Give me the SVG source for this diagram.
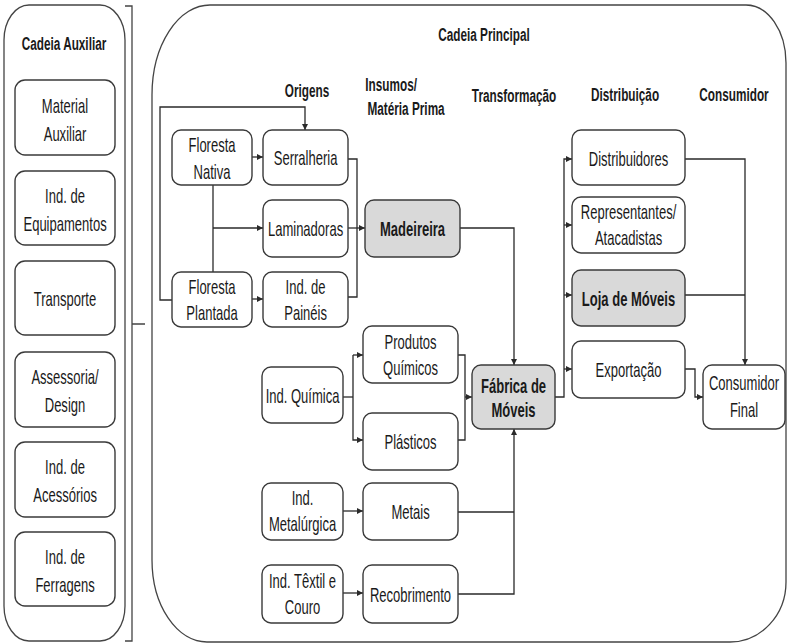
<svg xmlns="http://www.w3.org/2000/svg" width="787" height="644" viewBox="0 0 787 644">
<style>
text{font-family:"Liberation Sans",Arial,sans-serif;font-size:21px;fill:#1a1a1a;text-anchor:middle;transform-box:fill-box;transform-origin:center;transform:scaleX(0.62)}
.h{font-weight:bold;font-size:19px}
.b{font-weight:bold}
.n{fill:#fff;stroke:#3a3a3a;stroke-width:1.4}
.g{fill:#d9d9d9;stroke:#3a3a3a;stroke-width:1.4}
.panel{fill:#fff;stroke:#444;stroke-width:1.3}
.c path{fill:none;stroke:#2a2a2a;stroke-width:1.3}
.ar{marker-end:url(#ah)}
</style>
<defs>
<marker id="ah" markerUnits="userSpaceOnUse" markerWidth="6" markerHeight="6" refX="6" refY="3" orient="auto">
<path d="M0,0 L6,3 L0,6 z" fill="#2a2a2a"/>
</marker>
</defs>
<rect width="787" height="644" fill="#fff"/>
<g id="aux-panel">
<rect class="panel" x="4" y="5" width="121" height="636" rx="25" ry="35"/>
<text class="h" x="64" y="50">Cadeia Auxiliar</text>
</g>
<g id="bracket">
<path d="M125,6 H132 V641 H125 M132,324 H145" fill="none" stroke="#444" stroke-width="1.3"/>
</g>
<g id="aux-material"><rect class="n" x="15" y="80" width="100" height="75" rx="10"/><text x="65" y="113">Material</text><text x="65" y="141">Auxiliar</text></g>
<g id="aux-equip"><rect class="n" x="15" y="171" width="100" height="74" rx="10"/><text x="65" y="203">Ind. de</text><text x="65" y="231">Equipamentos</text></g>
<g id="aux-transp"><rect class="n" x="15" y="261" width="100" height="74" rx="10"/><text x="65" y="306">Transporte</text></g>
<g id="aux-assess"><rect class="n" x="15" y="352" width="100" height="75" rx="10"/><text x="65" y="384">Assessoria/</text><text x="65" y="412">Design</text></g>
<g id="aux-acess"><rect class="n" x="15" y="442" width="100" height="75" rx="10"/><text x="65" y="474">Ind. de</text><text x="65" y="502">Acessórios</text></g>
<g id="aux-ferr"><rect class="n" x="15" y="532" width="100" height="74" rx="10"/><text x="65" y="564">Ind. de</text><text x="65" y="592">Ferragens</text></g>

<g id="main-panel">
<path class="panel" d="M210,5 H746 A40,58 0 0 1 786,63 V582 A56,60 0 0 1 730,642 H207 A55,82 0 0 1 152,560 V95 A58,90 0 0 1 210,5 Z"/>
<text class="h" x="484" y="41">Cadeia Principal</text>
<text class="h" x="307" y="97">Origens</text>
<text class="h" x="391" y="91">Insumos/</text>
<text class="h" x="406" y="115">Matéria Prima</text>
<text class="h" x="514" y="102">Transformação</text>
<text class="h" x="625" y="101">Distribuição</text>
<text class="h" x="734" y="101">Consumidor</text>
</g>

<g class="c" id="connectors">
<path class="ar" d="M172,300 H160 V107 H305 V130"/>
<path class="ar" d="M252,157 H263"/>
<path d="M213,185 V272"/>
<path class="ar" d="M213,228 H263"/>
<path class="ar" d="M252,299 H263"/>
<path d="M348,159 H357 V297 H348"/>
<path class="ar" d="M348,228 H365"/>
<path class="ar" d="M460,228 H514 V365"/>
<path d="M343,397 H353"/>
<path class="ar" d="M353,355 V440 H363"/>
<path class="ar" d="M353,355 H363"/>
<path d="M458,355 H465 V440 H458"/>
<path class="ar" d="M465,397 H472"/>
<path class="ar" d="M343,511 H363"/>
<path d="M458,512 H514"/>
<path class="ar" d="M343,593 H363"/>
<path class="ar" d="M458,594 H514 V429"/>
<path class="ar" d="M555,397 H564 V159 H572"/>
<path class="ar" d="M564,225 H572"/>
<path class="ar" d="M564,295 H572"/>
<path class="ar" d="M564,369 H572"/>
<path class="ar" d="M685,159 H745 V365"/>
<path d="M685,295 H745"/>
<path class="ar" d="M685,369 H695 V397 H703"/>
</g>

<g id="floresta-nativa"><rect class="n" x="172" y="130" width="80" height="55" rx="9"/><text x="212" y="152">Floresta</text><text x="212" y="179">Nativa</text></g>
<g id="serralheria"><rect class="n" x="263" y="130" width="85" height="55" rx="9"/><text x="305.5" y="165">Serralheria</text></g>
<g id="laminadoras"><rect class="n" x="263" y="200" width="85" height="57" rx="9"/><text x="305.5" y="236">Laminadoras</text></g>
<g id="madeireira"><rect class="g" x="365" y="200" width="95" height="57" rx="9"/><text class="b" x="412.5" y="236">Madeireira</text></g>
<g id="floresta-plantada"><rect class="n" x="172" y="272" width="80" height="55" rx="9"/><text x="212" y="294">Floresta</text><text x="212" y="320">Plantada</text></g>
<g id="ind-paineis"><rect class="n" x="263" y="272" width="85" height="55" rx="9"/><text x="305.5" y="294">Ind. de</text><text x="305.5" y="320">Painéis</text></g>
<g id="produtos-quimicos"><rect class="n" x="363" y="326" width="95" height="57" rx="9"/><text x="410.5" y="349">Produtos</text><text x="410.5" y="375">Químicos</text></g>
<g id="ind-quimica"><rect class="n" x="262" y="367" width="81" height="56" rx="9"/><text x="302.5" y="403">Ind. Química</text></g>
<g id="plasticos"><rect class="n" x="363" y="413" width="95" height="57" rx="9"/><text x="410.5" y="449">Plásticos</text></g>
<g id="fabrica"><rect class="g" x="472" y="365" width="83" height="64" rx="9"/><text class="b" x="513.5" y="393">Fábrica de</text><text class="b" x="513.5" y="417">Móveis</text></g>
<g id="ind-metalurgica"><rect class="n" x="262" y="483" width="81" height="57" rx="9"/><text x="302.5" y="505">Ind.</text><text x="302.5" y="531">Metalúrgica</text></g>
<g id="metais"><rect class="n" x="363" y="483" width="95" height="57" rx="9"/><text x="410.5" y="519">Metais</text></g>
<g id="ind-textil"><rect class="n" x="262" y="565" width="81" height="58" rx="9"/><text x="302.5" y="588">Ind. Têxtil e</text><text x="302.5" y="614">Couro</text></g>
<g id="recobrimento"><rect class="n" x="363" y="565" width="95" height="58" rx="9"/><text x="410.5" y="602">Recobrimento</text></g>
<g id="distribuidores"><rect class="n" x="572" y="130" width="113" height="55" rx="9"/><text x="628.5" y="166">Distribuidores</text></g>
<g id="representantes"><rect class="n" x="572" y="197" width="113" height="56" rx="9"/><text x="628.5" y="219">Representantes/</text><text x="628.5" y="245">Atacadistas</text></g>
<g id="loja"><rect class="g" x="572" y="270" width="113" height="56" rx="9"/><text class="b" x="628.5" y="306">Loja de Móveis</text></g>
<g id="exportacao"><rect class="n" x="572" y="341" width="113" height="57" rx="9"/><text x="628.5" y="377">Exportação</text></g>
<g id="consumidor-final"><rect class="n" x="703" y="365" width="82" height="64" rx="9"/><text x="744" y="390">Consumidor</text><text x="744" y="417">Final</text></g>
</svg>
